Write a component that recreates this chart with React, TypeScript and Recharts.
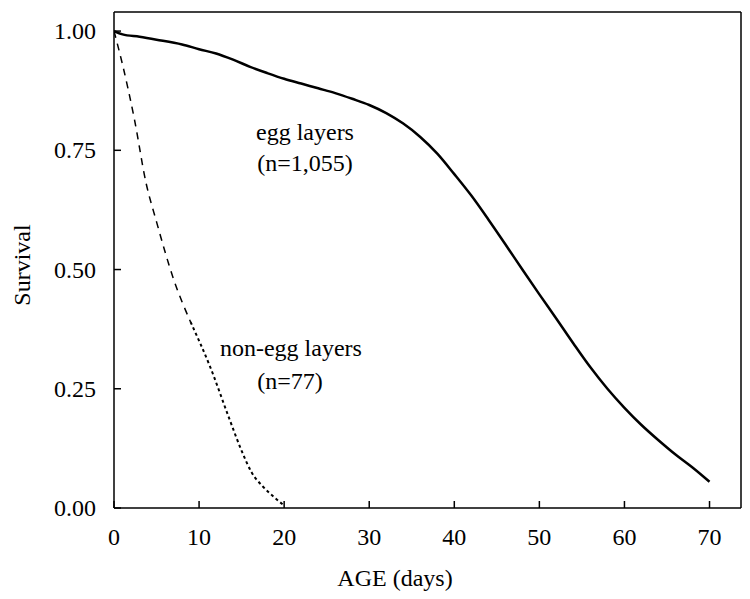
import { Label, Line, LineChart, ReferenceDot, ReferenceLine, XAxis, YAxis } from "recharts"

const eggDays = [0, 1, 3, 5, 8, 10, 12, 14, 16, 18, 20, 22, 24, 26, 28, 30, 32, 34, 36, 38, 40, 42, 44, 46, 48, 50, 52, 54, 56, 58, 60, 62, 64, 66, 68, 70]
const eggSurvival = [
  1.0, 0.993, 0.988, 0.982, 0.972, 0.962, 0.953, 0.94, 0.925, 0.912, 0.9, 0.89, 0.88, 0.87, 0.858, 0.845, 0.828, 0.806, 0.778,
  0.743, 0.7, 0.655, 0.605, 0.553, 0.5, 0.448, 0.397, 0.345, 0.295, 0.25, 0.21, 0.174, 0.142, 0.112, 0.085, 0.055,
]

const nonEggDays = [0, 1, 2.4, 3.75, 5, 7, 9, 11.3, 13.6, 15, 16.2, 17.5, 19, 20]
const nonEggSurvival = [1.0, 0.93, 0.815, 0.683, 0.6, 0.48, 0.39, 0.296, 0.185, 0.12, 0.074, 0.045, 0.02, 0.005]

const xTicks = [0, 10, 20, 30, 40, 50, 60, 70]
const yTicks = [0, 0.25, 0.5, 0.75, 1]

const X_MAX = 73.7
const Y_MAX = 1.04
const FONT = "'Liberation Serif', 'Times New Roman', serif"

const egg = eggDays.map((day, i) => ({ day, s: eggSurvival[i] }))
const nonEgg = nonEggDays.map((day, i) => ({ day, s: nonEggSurvival[i] }))
const nonEggDashed = nonEgg.filter((d) => d.day <= 9)
const nonEggDotted = nonEgg.filter((d) => d.day >= 9)

function XTick(props: any) {
  const { x, y, payload } = props
  return (
    <g>
      <line x1={x} y1={y} x2={x} y2={y - 7} stroke="#000" strokeWidth={1.5} />
      <text x={x} y={y + 37} textAnchor="middle" fontFamily={FONT} fontSize={24} fill="#000">
        {payload.value}
      </text>
    </g>
  )
}

function YTick(props: any) {
  const { x, y, payload } = props
  return (
    <g>
      <line x1={x} y1={y} x2={x + 7} y2={y} stroke="#000" strokeWidth={1.5} />
      <text x={x - 18} y={y + 8} textAnchor="end" fontFamily={FONT} fontSize={24} fill="#000">
        {Number(payload.value).toFixed(2)}
      </text>
    </g>
  )
}

const note = (value: string) => ({
  value,
  position: "center" as const,
  fontFamily: FONT,
  fontSize: 24,
  fill: "#000",
})

export default function App() {
  return (
    <LineChart width={742} height={591} margin={{ top: 4, right: 9, left: 0, bottom: 0 }}>
      <XAxis
        dataKey="day"
        type="number"
        domain={[0, X_MAX]}
        ticks={xTicks}
        height={91}
        tickSize={0}
        tickMargin={0}
        tick={<XTick />}
        axisLine={{ stroke: "#000", strokeWidth: 1.5 }}
        tickLine={false}
        allowDataOverflow
      >
        <Label
          content={() => (
            <text x={387} y={578} textAnchor="middle" fontFamily={FONT} fontSize={24} fill="#000">
              AGE (days)
            </text>
          )}
        />
      </XAxis>
      <YAxis
        type="number"
        domain={[0, Y_MAX]}
        ticks={yTicks}
        width={106}
        tickSize={0}
        tickMargin={0}
        tick={<YTick />}
        axisLine={{ stroke: "#000", strokeWidth: 1.5 }}
        tickLine={false}
        allowDataOverflow
      >
        <Label
          content={() => (
            <text
              x={14}
              y={257}
              transform="rotate(-90 14 257)"
              textAnchor="middle"
              dominantBaseline="central"
              fontFamily={FONT}
              fontSize={24}
              fill="#000"
            >
              Survival
            </text>
          )}
        />
      </YAxis>
      <ReferenceLine y={Y_MAX} stroke="#000" strokeWidth={1.5} />
      <ReferenceLine x={X_MAX} stroke="#000" strokeWidth={1.5} />

      <Line data={egg} dataKey="s" type="monotone" stroke="#000" strokeWidth={2.5} dot={false} isAnimationActive={false} />
      <Line
        data={nonEggDashed}
        dataKey="s"
        type="monotone"
        stroke="#000"
        strokeWidth={1.5}
        strokeDasharray="7 6"
        dot={false}
        isAnimationActive={false}
      />
      <Line
        data={nonEggDotted}
        dataKey="s"
        type="monotone"
        stroke="#000"
        strokeWidth={2}
        strokeDasharray="3 3"
        dot={false}
        isAnimationActive={false}
      />

      <ReferenceDot x={22.45} y={0.79} r={0} stroke="none" label={note("egg layers")} />
      <ReferenceDot x={22.45} y={0.7255} r={0} stroke="none" label={note("(n=1,055)")} />
      <ReferenceDot x={20.8} y={0.3376} r={0} stroke="none" label={note("non-egg layers")} />
      <ReferenceDot x={20.7} y={0.268} r={0} stroke="none" label={note("(n=77)")} />
    </LineChart>
  )
}
